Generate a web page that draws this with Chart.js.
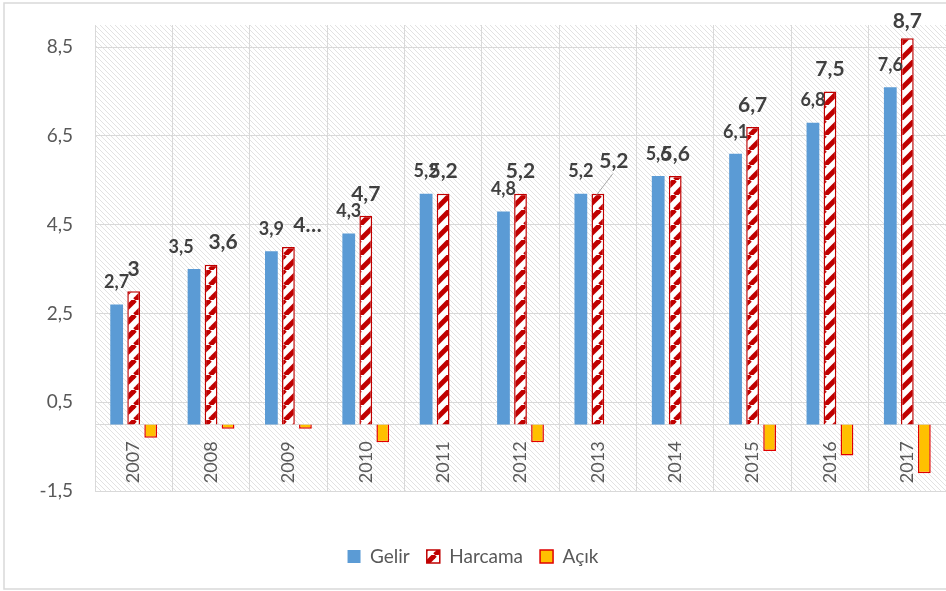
<!DOCTYPE html>
<html>
<head>
<meta charset="utf-8">
<script src="https://cdn.jsdelivr.net/npm/chart.js@4/dist/chart.umd.min.js"></script>
<style>
  body { margin: 0; background: #fff; }
</style>
</head>
<body>
<canvas id="myChart" width="946" height="591"></canvas>
<script>
// dados //
const years = ['2007', '2008', '2009', '2010', '2011', '2012', '2013', '2014', '2015', '2016', '2017'];
const gelir = [2.7, 3.5, 3.9, 4.3, 5.2, 4.8, 5.2, 5.6, 6.1, 6.8, 7.6];
const harcama = [3.0, 3.6, 4.0, 4.7, 5.2, 5.2, 5.2, 5.6, 6.7, 7.5, 8.7];
const acik = [-0.3, -0.1, -0.1, -0.4, 0, -0.4, 0, 0, -0.6, -0.7, -1.1];
const yTicks = [-1.5, 0.5, 2.5, 4.5, 6.5, 8.5];

const fmt = v => Number.isInteger(v) ? String(v) : v.toFixed(1).replace('.', ',');

// padroes //
function hatch(size, color, width, dir) {
    const c = document.createElement('canvas');
    c.width = size;
    c.height = size;
    const g = c.getContext('2d');
    g.fillStyle = '#fff';
    g.fillRect(0, 0, size, size);
    g.strokeStyle = color;
    g.lineWidth = width;
    for (let k = -1; k <= 1; k++) {
        g.beginPath();
        if (dir === '/') {
            g.moveTo(k * size, size);
            g.lineTo(k * size + size, 0);
        } else {
            g.moveTo(k * size, 0);
            g.lineTo(k * size + size, size);
        }
        g.stroke();
    }
    return g.createPattern(c, 'repeat');
}

const ctx = document.getElementById('myChart');
const stripes = hatch(15, '#c00000', 5, '/');
const bgHatch = hatch(5, '#e2e2e2', 1, '\\');

// ajustes manuais dos rotulos (como no Excel)
const labelShift = { '0-1': [-13, 0], '1-1': [12, 0], '1-2': [19, 0], '1-6': [16, -10], '1-10': [0, 5] };
const labelText = { '1-2': '4…' };

const extras = {
    id: 'extras',
    beforeDraw(chart) {
        const c = chart.ctx;
        const a = chart.chartArea;
        c.save();
        c.fillStyle = bgHatch;
        c.fillRect(a.left, a.top, a.right - a.left, a.bottom - a.top);
        c.strokeStyle = '#d9d9d9';
        c.lineWidth = 1.5;
        c.strokeRect(4, 3, 980, 586);
        c.restore();
    },
    afterDatasetsDraw(chart) {
        const c = chart.ctx;
        c.save();
        c.fillStyle = '#404040';
        c.textAlign = 'center';
        c.textBaseline = 'middle';
        [0, 1].forEach(ds => {
            const meta = chart.getDatasetMeta(ds);
            c.font = ds === 0 ? 'bold 18px Lato' : 'bold 21px Lato';
            meta.data.forEach((bar, i) => {
                const key = ds + '-' + i;
                const sh = labelShift[key] || [0, 0];
                const x = bar.x + sh[0];
                const y = bar.y - 22 + sh[1];
                const txt = labelText[key] || fmt(chart.data.datasets[ds].data[i]);
                if (key === '1-6') {
                    c.strokeStyle = '#a6a6a6';
                    c.lineWidth = 1;
                    c.beginPath();
                    c.moveTo(x - 1, y + 12);
                    c.lineTo(bar.x - 1, bar.y + 1);
                    c.stroke();
                }
                c.fillText(txt, x, y);
            });
        });
        c.restore();
    }
};

new Chart(ctx, {
    type: 'bar',
    data: {
        labels: years,
        datasets: [{
            label: 'Gelir',
            data: gelir,
            backgroundColor: '#5b9bd5',
            borderWidth: 0
        }, {
            label: 'Harcama',
            data: harcama,
            backgroundColor: stripes,
            borderColor: '#c00000',
            borderWidth: 1.5
        }, {
            label: 'Açık',
            data: acik,
            backgroundColor: '#ffc000',
            borderColor: '#e00000',
            borderWidth: 1.5
        }]
    },
    options: {
        responsive: false,
        animation: false,
        categoryPercentage: 0.66,
        barPercentage: 0.75,
        layout: {
            padding: { top: 25, right: 0, left: 0, bottom: 15 }
        },
        plugins: {
            tooltip: { enabled: false },
            legend: {
                position: 'bottom',
                title: {
                    display: true,
                    text: '',
                    font: { size: 10 },
                    padding: { top: 27, bottom: 0 }
                },
                labels: {
                    color: '#595959',
                    font: { family: 'Lato', size: 19 },
                    boxWidth: 13,
                    boxHeight: 13,
                    padding: 17
                }
            }
        },
        scales: {
            x: {
                position: { y: 0 },
                afterFit: scale => {
                    scale.paddingTop = 0;
                    scale.paddingBottom = 0;
                    scale.paddingLeft = 0;
                    scale.paddingRight = 0;
                },
                grid: {
                    color: '#d9d9d9',
                    drawTicks: false
                },
                border: { color: '#d9d9d9' },
                ticks: {
                    color: '#595959',
                    font: { family: 'Lato', size: 18 },
                    minRotation: 90,
                    maxRotation: 90,
                    padding: 17
                }
            },
            y: {
                min: -1.5,
                max: 9,
                afterBuildTicks: axis => {
                    axis.ticks = yTicks.map(v => ({ value: v }));
                },
                afterFit: scale => {
                    scale.width = 95;
                    scale.paddingTop = 0;
                    scale.paddingBottom = 0;
                },
                grid: {
                    color: '#d9d9d9',
                    drawTicks: false
                },
                border: { color: '#d9d9d9' },
                ticks: {
                    color: '#595959',
                    font: { family: 'Lato', size: 19 },
                    padding: 22,
                    callback: v => fmt(v)
                }
            }
        }
    },
    plugins: [extras]
});
</script>
</body>
</html>
